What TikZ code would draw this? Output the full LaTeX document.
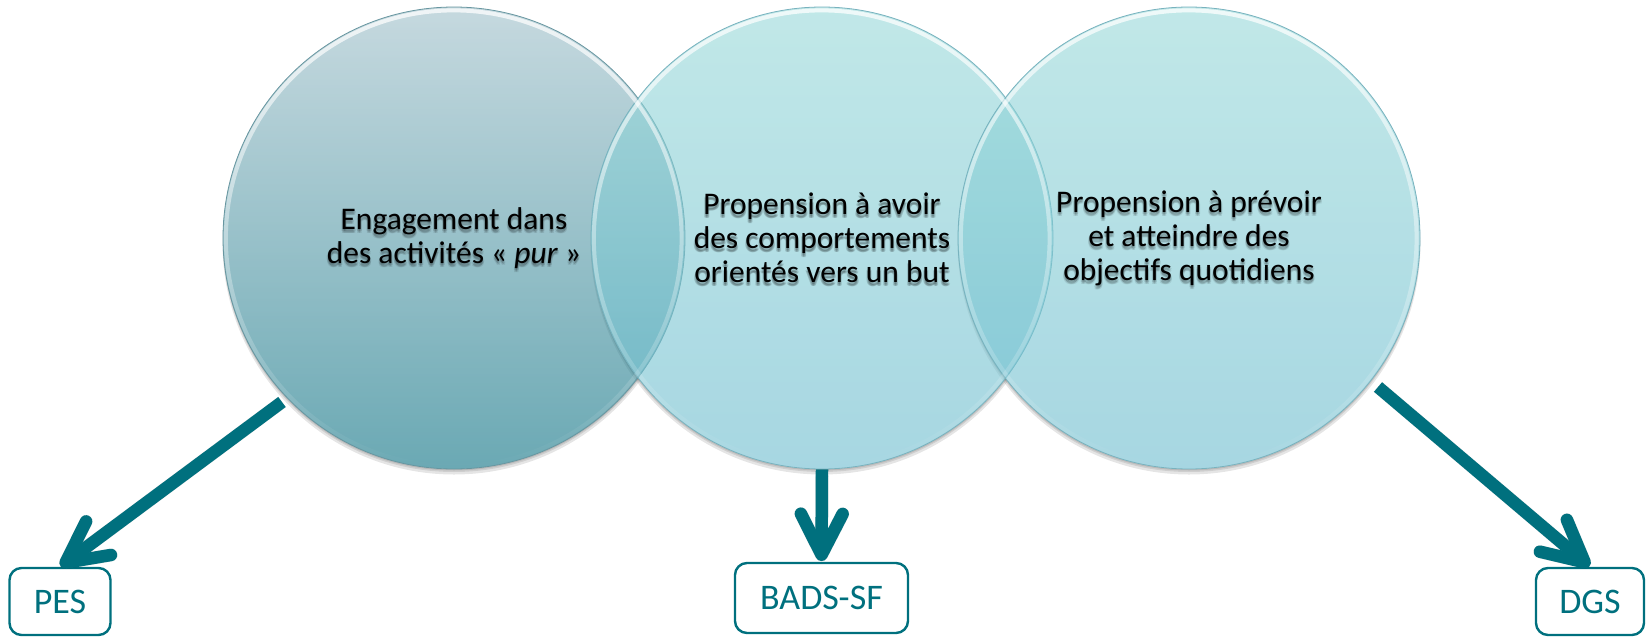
\documentclass[tikz,border=0pt]{standalone}
\usepackage{fontspec}
\setmainfont{Carlito}
\usetikzlibrary{calc,fadings}

% colours of the three discs (before transparency) and of the arrows
\definecolor{discAtop}{RGB}{160,192,202}
\definecolor{discAmid}{RGB}{118,172,183}
\definecolor{discAbot}{RGB}{8,112,130}
\definecolor{discBtop}{RGB}{152,217,217}
\definecolor{discBmid}{RGB}{127,202,210}
\definecolor{discBbot}{RGB}{108,188,207}
\definecolor{discAedge}{RGB}{104,150,160}
\definecolor{discBedge}{RGB}{120,178,190}
\definecolor{arrowteal}{RGB}{0,112,126}

% light rim along the upper edge of each disc
\tikzfading[name=rimfade, top color=transparent!0, middle color=transparent!100, bottom color=transparent!100]

\tikzset{
  disc/.style={circle, inner sep=0pt, minimum size=462pt, fill opacity=0.6, draw opacity=1, line width=0.8pt},
  discA/.style={disc, top color=discAtop, middle color=discAmid, bottom color=discAbot, draw=discAedge},
  discB/.style={disc, top color=discBtop, middle color=discBmid, bottom color=discBbot, draw=discBedge},
  disctext/.style={align=center, font=\fontsize{31.5}{34}\selectfont, text=black},
  softshade/.style={text opacity=0.09},
  labelbox/.style={draw=arrowteal, line width=2.4pt, rounded corners=12pt, text=arrowteal,
                   font=\fontsize{36}{40}\selectfont, inner sep=0pt},
  shaft/.style={draw=arrowteal, line width=12.5pt, line cap=butt},
  barb/.style={draw=arrowteal, line width=12.5pt, line cap=round, line join=round},
  shaftshade/.style={draw=black, line width=13pt, line cap=butt, draw opacity=0.06},
  barbshade/.style={draw=black, line width=13pt, line cap=round, line join=round, draw opacity=0.06},
}

% disc texts
\newcommand\txtA{Engagement dans\\des activités « \textit{pur} »}
\newcommand\txtB{Propension à avoir\\des comportements\\orientés vers un but}
\newcommand\txtC{Propension à prévoir\\et atteindre des\\objectifs quotidiens}

\begin{document}
\begin{tikzpicture}[x=1pt, y=-1pt]
\useasboundingbox (0,0) rectangle (1647,637);

% soft shadows beneath the discs
\foreach \cx in {454,822,1189}{
  \fill[black, opacity=0.10] (\cx,243) circle (231.5pt);
  \fill[black, opacity=0.10] (\cx,241) circle (231pt);
  \fill[black, opacity=0.10] (\cx,239.5) circle (231pt);
  \fill[white] (\cx,238) circle (231pt);
}

% the three overlapping discs
\node[discA] (c1) at (454,238) {};
\node[discB] (c2) at (822,238) {};
\node[discB] (c3) at (1189,238) {};

% light rims
\foreach \cx in {454,822,1189}{
  \draw[white, line width=4pt, opacity=0.75, path fading=rimfade] (\cx,238) circle (228pt);
}

% blurred shadow under the disc texts
\foreach \dx/\dy [count=\k] in {0/1.5, 1.2/2.5, -1.2/2.5, 0/3.5, 0.8/4.2, -0.8/4.2}{
  \node[disctext, softshade] (sa\k) at ($(c1.center)+(\dx,\dy)$) {\txtA};
  \node[disctext, softshade] (sb\k) at ($(c2.center)+(\dx,\dy)$) {\txtB};
  \node[disctext, softshade] (sc\k) at ($(c3.center)+(\dx,\dy)$) {\txtC};
}

% texts in the discs
\node[disctext] (t1) at (c1.center) {\txtA};
\node[disctext] (t2) at (c2.center) {\txtB};
\node[disctext] (t3) at (c3.center) {\txtC};

% scale boxes
\node[labelbox, minimum width=101pt, minimum height=67pt] (pes) at (60,601.5) {PES};
\node[labelbox, minimum width=173pt, minimum height=70pt] (bads) at (821.5,598) {BADS-SF};
\node[labelbox, minimum width=108pt, minimum height=67pt] (dgs) at (1590,601.5) {DGS};

% arrow ends
\coordinate (pesstart) at (282,402);
\coordinate (badsstart) at (c2.south);
\coordinate (dgsstart) at (1378,387);
\coordinate (pestip) at ($(pes.north)!7pt!(pesstart)$);
\coordinate (badstip) at ($(bads.north)!7pt!(badsstart)$);
\coordinate (dgstip) at ($(dgs.north)!7pt!(dgsstart)$);

% soft shadows of the arrows
\foreach \dx/\dy in {1.5/2.5, 3/4.5}{
  \begin{scope}[shift={(\dx,\dy)}]
    \draw[shaftshade] (pesstart) -- ($(pestip)!8pt!(pesstart)$);
    \draw[barbshade] ($(pestip)!46pt!27:(pesstart)$) -- (pestip) -- ($(pestip)!46pt!-27:(pesstart)$);
    \draw[shaftshade] ($(badsstart)+(0,6)$) -- ($(badstip)!8pt!(badsstart)$);
    \draw[barbshade] ($(badstip)!46pt!27:(badsstart)$) -- (badstip) -- ($(badstip)!46pt!-27:(badsstart)$);
    \draw[shaftshade] (dgsstart) -- ($(dgstip)!8pt!(dgsstart)$);
    \draw[barbshade] ($(dgstip)!46pt!27:(dgsstart)$) -- (dgstip) -- ($(dgstip)!46pt!-27:(dgsstart)$);
  \end{scope}
}

% arrows from the discs to the boxes
\draw[shaft] (pesstart) -- ($(pestip)!8pt!(pesstart)$);
\draw[barb] ($(pestip)!46pt!27:(pesstart)$) -- (pestip) -- ($(pestip)!46pt!-27:(pesstart)$);

\draw[shaft] (badsstart) -- ($(badstip)!8pt!(badsstart)$);
\draw[barb] ($(badstip)!46pt!27:(badsstart)$) -- (badstip) -- ($(badstip)!46pt!-27:(badsstart)$);

\draw[shaft] (dgsstart) -- ($(dgstip)!8pt!(dgsstart)$);
\draw[barb] ($(dgstip)!46pt!27:(dgsstart)$) -- (dgstip) -- ($(dgstip)!46pt!-27:(dgsstart)$);
\end{tikzpicture}
\end{document}
